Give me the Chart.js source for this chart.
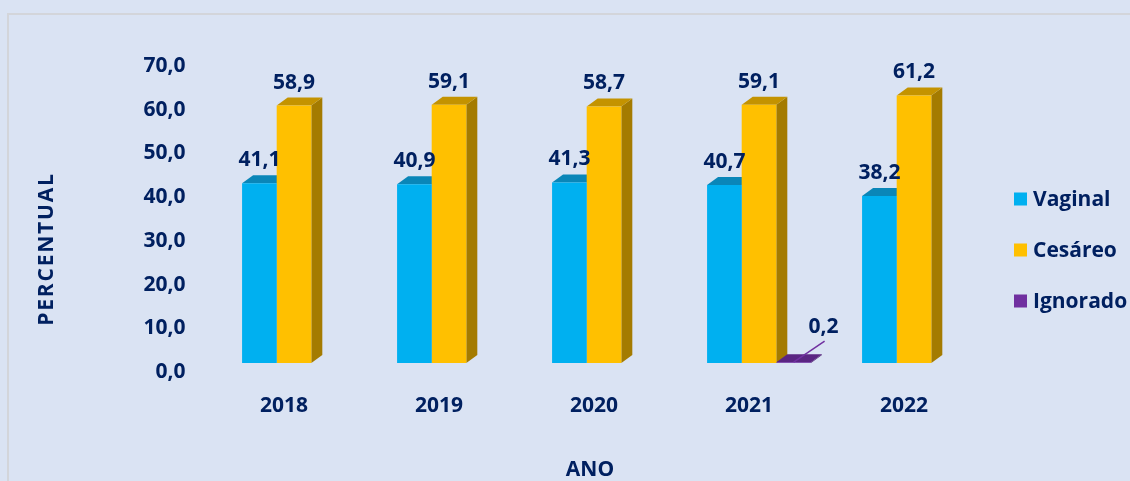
<!DOCTYPE html>
<html>
<head>
<meta charset="utf-8">
<script src="https://cdn.jsdelivr.net/npm/chart.js@4/dist/chart.umd.min.js"></script>
<style>
  html, body { margin: 0; padding: 0; background: #dae3f3; }
  #wrap { width: 1130px; height: 481px; position: relative; }
</style>
</head>
<body>
<div id="wrap"><canvas id="c" width="1130" height="481"></canvas></div>
<script>
const categories = ['2018', '2019', '2020', '2021', '2022'];
const vaginal   = [41.1, 40.9, 41.3, 40.7, 38.2];
const cesareo   = [58.9, 59.1, 58.7, 59.1, 61.2];
const ignorado  = [null, null, null, 0.2, null];
const seriesNames = ['Vaginal', 'Cesáreo', 'Ignorado'];
const yTicks = [0, 10, 20, 30, 40, 50, 60, 70];

const TEXT = '#002060';
const FONT = "'Open Sans', 'Noto Sans', sans-serif";
const fronts = ['#00b0f0', '#ffc000', '#7030a0'];
const tops   = ['#0a86b8', '#c49300', '#5a2582'];
const sides  = ['#0079a8', '#a47b00', '#4a1d6c'];
const DX = 11, DY = 8;

function fmt(v) { return v.toFixed(1).replace('.', ','); }

const bgPlugin = {
  id: 'bg',
  beforeDraw(chart) {
    const ctx = chart.ctx;
    ctx.save();
    ctx.fillStyle = '#dae3f3';
    ctx.fillRect(0, 0, chart.width, chart.height);
    ctx.strokeStyle = '#d3d5da';
    ctx.lineWidth = 2;
    ctx.strokeRect(8, 14, chart.width + 20, chart.height + 20);
    ctx.restore();
  }
};

const threeD = {
  id: 'threeD',
  beforeDatasetsDraw(chart) {
    const ctx = chart.ctx;
    ctx.save();
    chart.data.datasets.forEach((ds, di) => {
      const meta = chart.getDatasetMeta(di);
      meta.data.forEach((el, i) => {
        if (ds.data[i] == null) return;
        const l = el.x - el.width / 2, r = el.x + el.width / 2;
        const t = el.y, b = el.base;
        ctx.fillStyle = sides[di];
        ctx.beginPath();
        ctx.moveTo(r, t); ctx.lineTo(r + DX, t - DY); ctx.lineTo(r + DX, b - DY); ctx.lineTo(r, b);
        ctx.closePath(); ctx.fill();
        ctx.fillStyle = tops[di];
        ctx.beginPath();
        ctx.moveTo(l, t); ctx.lineTo(r, t); ctx.lineTo(r + DX, t - DY); ctx.lineTo(l + DX, t - DY);
        ctx.closePath(); ctx.fill();
      });
    });
    ctx.restore();
  },
  afterDatasetsDraw(chart) {
    const ctx = chart.ctx;
    ctx.save();
    ctx.font = 'bold 21px ' + FONT;
    ctx.fillStyle = TEXT;
    ctx.textAlign = 'center';
    ctx.textBaseline = 'middle';
    chart.data.datasets.forEach((ds, di) => {
      const meta = chart.getDatasetMeta(di);
      meta.data.forEach((el, i) => {
        const v = ds.data[i];
        if (v == null) return;
        if (v < 2) {
          ctx.strokeStyle = fronts[di];
          ctx.lineWidth = 1.5;
          ctx.beginPath();
          ctx.moveTo(el.x, el.y);
          ctx.lineTo(el.x + 31, el.y - 21);
          ctx.stroke();
          ctx.fillText(fmt(v), el.x + 30, el.y - 35);
        } else {
          ctx.fillText(fmt(v), el.x, el.y - 23);
        }
      });
    });
    ctx.restore();
  },
  afterDraw(chart) {
    const ctx = chart.ctx;
    ctx.save();
    ctx.font = 'bold 21px ' + FONT;
    ctx.fillStyle = TEXT;
    ctx.textBaseline = 'middle';
    ctx.textAlign = 'center';
    ctx.fillText('ANO', 590, 470);
    ctx.save();
    ctx.translate(47, 249);
    ctx.rotate(-Math.PI / 2);
    ctx.letterSpacing = '1.8px';
    ctx.fillText('PERCENTUAL', 0, 0);
    ctx.restore();
    ctx.textAlign = 'left';
    chart.data.datasets.forEach((ds, di) => {
      const cy = 199 + di * 51;
      ctx.fillStyle = ds.backgroundColor;
      ctx.fillRect(1014, cy - 6.5, 13, 13);
      ctx.fillStyle = TEXT;
      ctx.fillText(ds.label, 1033, cy + 1);
    });
    ctx.restore();
  }
};

new Chart(document.getElementById('c'), {
  type: 'bar',
  data: {
    labels: categories,
    datasets: [
      { label: seriesNames[0], data: vaginal,  backgroundColor: fronts[0] },
      { label: seriesNames[1], data: cesareo,  backgroundColor: fronts[1] },
      { label: seriesNames[2], data: ignorado, backgroundColor: fronts[2] }
    ]
  },
  options: {
    responsive: false,
    animation: false,
    layout: { padding: { left: 0, right: 138.5, top: 0, bottom: 0 } },
    datasets: { bar: { categoryPercentage: 0.67, barPercentage: 1.0 } },
    plugins: { legend: { display: false }, tooltip: { enabled: false } },
    scales: {
      x: {
        grid: { display: false, drawTicks: false },
        border: { display: false },
        ticks: { color: TEXT, font: { family: FONT, size: 21, weight: 'bold' }, padding: 30, labelOffset: -10 },
        afterFit(s) { s.height = 118; }
      },
      y: {
        min: 0, max: 70,
        grid: { display: false, drawTicks: false },
        border: { display: false },
        afterBuildTicks(s) { s.ticks = yTicks.map(v => ({ value: v })); },
        ticks: {
          color: TEXT, font: { family: FONT, size: 21, weight: 'bold' }, padding: 31, labelOffset: 9,
          callback: v => fmt(v)
        },
        afterFit(s) { s.width = 216.5; s.paddingTop = 57; }
      }
    }
  },
  plugins: [bgPlugin, threeD]
});
</script>
</body>
</html>
